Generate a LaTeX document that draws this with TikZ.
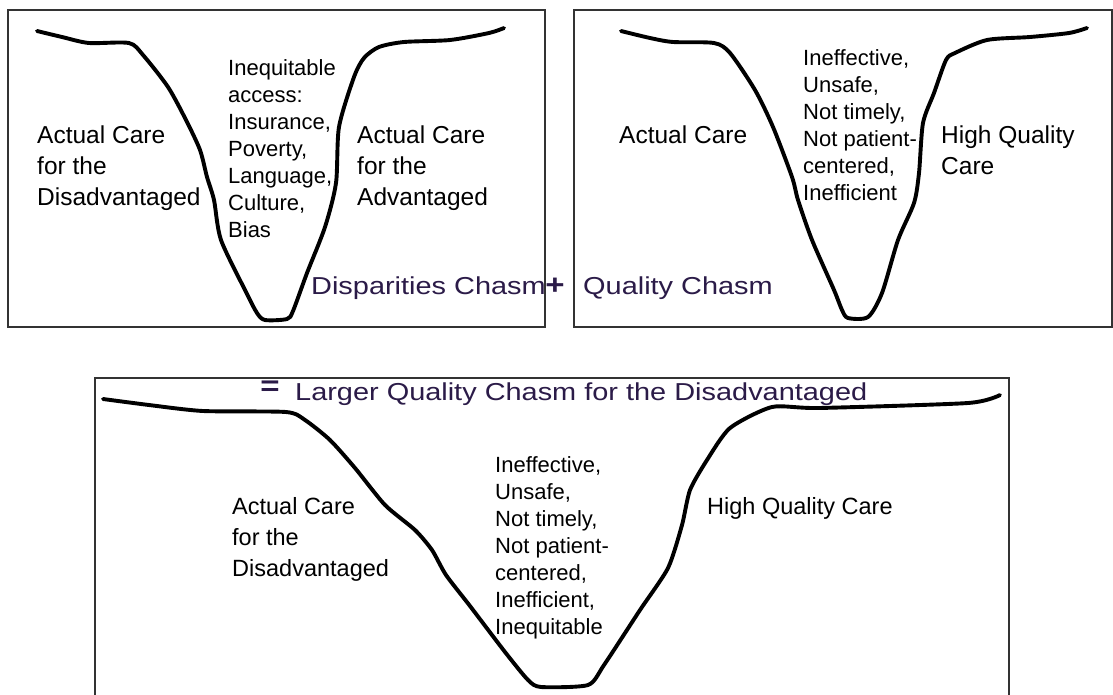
\documentclass[tikz,border=0pt]{standalone}
\usepackage{fontspec}
\setmainfont{Liberation Sans}
\newfontfamily\titlefont[FakeStretch=1.18]{Liberation Sans}
\usepackage{xcolor}
\usetikzlibrary{positioning}
\definecolor{titleink}{HTML}{2B1B48}
\definecolor{frameink}{HTML}{333333}

\begin{document}
\begin{tikzpicture}[
  x=1pt, y=-1pt,
  frame/.style={draw=frameink, line width=1.4pt},
  chasm/.style={draw=black, line width=3.9pt, line cap=round, line join=round},
  sidelabel/.style={inner sep=0pt, anchor=north west, align=left,
    font=\fontsize{24.5}{31}\selectfont},
  gaplabel/.style={inner sep=0pt, anchor=north west, align=left,
    font=\fontsize{22}{27}\selectfont},
  lowlabel/.style={inner sep=0pt, anchor=north west, align=left,
    font=\fontsize{23.5}{31}\selectfont},
  chasmtitle/.style={inner sep=0pt, anchor=base west, text=titleink,
    font=\titlefont\fontsize{24.5}{30}\selectfont},
  sign/.style={inner sep=0pt, text=titleink,
    font=\titlefont\bfseries\fontsize{28}{30}\selectfont},
]
\useasboundingbox[fill=white] (0,0) rectangle (1113,694);

% frames
\draw[frame] (8,10) rectangle (545,327);
\draw[frame] (574,10) rectangle (1112,327);
\draw[frame] (95,700) -- (95,378) -- (1009,378) -- (1009,700);

% disparities chasm
\draw[chasm] plot[smooth, tension=0.45] coordinates {
  (37,31) (62,37) (89,43) (129,43) (143,55) (168,87) (186,120) (200,150)
  (207,177) (214,200) (221,240) (246,292) (257,313) (265,320) (287,319)
  (293,311) (307,273) (325,227) (336,183) (339,127) (354,77) (364,58)
  (379,47) (404,42) (450,40) (489,33) (504,28)};

\node[sidelabel] (dLeft)  at (37,125.4)  {Actual Care\\for the\\Disadvantaged};
\node[gaplabel]  (dGap)   at (228,59.2)  {Inequitable\\access:\\Insurance,\\Poverty,\\Language,\\Culture,\\Bias};
\node[sidelabel] (dRight) at (357,125.4) {Actual Care\\for the\\Advantaged};
\node[chasmtitle] (dTitle) at (311,294) {Disparities Chasm};

\node[sign] (plus) at (555,286) {+};

% quality chasm
\draw[chasm] plot[smooth, tension=0.45] coordinates {
  (621,31) (650,38) (673,42) (714,43) (730,53) (755,90) (773,127) (792,177)
  (798,200) (812,240) (834,290) (842,310) (848,318) (868,317) (882,293)
  (898,240) (914,203) (919,173) (923,123) (934,93) (946,60) (955,53)
  (987,40) (1030,37) (1069,33) (1087,28)};

\node[sidelabel] (qLeft)  at (619,125.4) {Actual Care};
\node[gaplabel]  (qGap)   at (803,49.2)  {Ineffective,\\Unsafe,\\Not timely,\\Not patient-\\centered,\\Inefficient};
\node[sidelabel] (qRight) at (941,125.4) {High Quality\\Care};
\node[chasmtitle] (qTitle) at (583,294) {Quality Chasm};

% larger chasm
\node[sign] (equal) at (270,388) {=};
\node[chasmtitle] (lTitle) at (295,400) {Larger Quality Chasm for the Disadvantaged};

\draw[chasm] plot[smooth, tension=0.4] coordinates {
  (103,399) (149,405) (203,411) (286,412) (305,420) (330,440) (355,468)
  (385,505) (415,530) (432,550) (446,575) (470,606) (505,652) (528,680)
  (541,687) (588,685) (604,665) (640,610) (668,568) (682,525) (690,490)
  (707,460) (730,428) (772,407) (819,408) (968,403) (1000,395)};

\node[lowlabel] (lLeft)  at (232,497) {Actual Care\\for the\\Disadvantaged};
\node[gaplabel] (lGap)   at (495,456) {Ineffective,\\Unsafe,\\Not timely,\\Not patient-\\centered,\\Inefficient,\\Inequitable};
\node[lowlabel, anchor=base west] (lRight) at (707,514) {High Quality Care};
\end{tikzpicture}
\end{document}
